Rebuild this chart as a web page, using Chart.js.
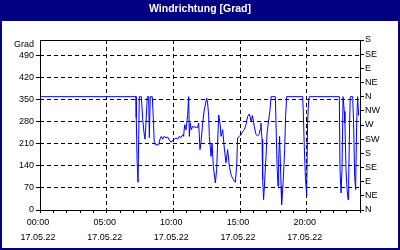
<!DOCTYPE html>
<html><head><meta charset="utf-8">
<script src="https://cdn.jsdelivr.net/npm/chart.js@4/dist/chart.umd.min.js"></script>
<style>html,body{margin:0;padding:0;background:#000080;}#wrap{width:400px;height:250px;}</style>
</head><body><div id="wrap"><canvas id="c" width="400" height="250"></canvas></div>
<script>
const titleText = 'Windrichtung [Grad]';
const unitLabel = 'Grad';
const dateLabel = '17.05.22';
const labelHours = [0, 5, 10, 15, 20];
const leftTickValues = [0, 70, 140, 210, 280, 350, 420, 490];
const compassLabels = ['N','NE','E','SE','S','SW','W','NW','N','NE','E','SE','S'];

// time of day in hours
const times = [0, 7.20, 7.22, 7.28, 7.35, 7.45, 7.60, 7.70, 7.80, 7.88, 7.95, 8.05, 8.15, 8.20, 8.27, 8.42,
  8.50, 8.57, 8.65, 8.90, 9.00, 9.10, 9.20, 9.32, 9.45, 9.57, 9.70, 9.83, 9.95, 10.07, 10.20, 10.32,
  10.45, 10.58, 10.70, 10.77, 10.85, 10.95, 11.07, 11.15, 11.20, 11.27, 11.35, 11.45, 11.70, 11.82, 11.90, 12.00,
  12.08, 12.20, 12.32, 12.50, 12.57, 12.65, 12.70, 12.83, 12.90, 13.00, 13.15, 13.25, 13.40, 13.50, 13.58, 13.70,
  13.82, 13.95, 14.07, 14.20, 14.33, 14.45, 14.65, 14.75, 14.82, 14.95, 15.08, 15.20, 15.32, 15.45, 15.57, 15.70,
  15.85, 15.92, 16.00, 16.07, 16.20, 16.32, 16.45, 16.50, 16.57, 16.65, 16.70, 16.77, 16.85, 16.95, 17.03, 17.12,
  17.25, 17.33, 17.65, 17.70, 17.78, 17.85, 17.90, 17.97, 18.08, 18.12, 18.20, 18.27, 18.35, 18.42, 18.50, 19.70,
  19.75, 19.82, 19.90, 20.00, 20.07, 20.15, 20.20, 22.45, 22.50, 22.58, 22.65, 22.73, 22.77, 22.82, 22.87, 22.95,
  23.03, 23.10, 23.15, 23.22, 23.27, 23.45, 23.52, 23.60, 23.67, 23.75, 23.82, 23.90];
// wind direction in degrees
const directions = [360, 360, 292, 160, 88, 360, 360, 290, 245, 225, 280, 360, 360, 230, 360, 360,
  290, 213, 207, 207, 225, 234, 225, 234, 229, 232, 222, 215, 222, 225, 229, 225,
  234, 230, 239, 234, 271, 255, 300, 360, 234, 276, 255, 265, 263, 262, 276, 192,
  218, 276, 318, 355, 340, 300, 234, 170, 213, 139, 86, 128, 302, 276, 234, 255,
  197, 150, 192, 139, 112, 100, 88, 139, 229, 234, 239, 250, 255, 271, 297, 305,
  280, 300, 285, 265, 240, 235, 242, 255, 276, 224, 97, 33, 92, 170, 244, 276,
  318, 360, 360, 276, 139, 75, 160, 234, 75, 17, 65, 118, 192, 297, 360, 360,
  308, 202, 107, 44, 276, 350, 360, 360, 128, 54, 128, 360, 360, 313, 276, 128,
  65, 33, 86, 276, 360, 360, 276, 107, 65, 276, 360, 300];

const FONT = 'Liberation Sans';
const frame = {
  id: 'frame',
  beforeDraw(chart) {
    const ctx = chart.ctx;
    ctx.save();
    ctx.fillStyle = '#000080';
    ctx.fillRect(0, 0, 400, 250);
    ctx.fillStyle = '#ffffff';
    ctx.fillRect(2, 21, 396, 227);
    ctx.restore();
  },
  afterDraw(chart) {
    const a = chart.chartArea, ctx = chart.ctx;
    ctx.save();
    ctx.strokeStyle = '#000';
    ctx.lineWidth = 1;
    ctx.strokeRect(Math.round(a.left) + 0.5, Math.round(a.top) + 0.5,
      Math.round(a.right) - Math.round(a.left), Math.round(a.bottom) - Math.round(a.top));
    ctx.restore();
  }
};

new Chart(document.getElementById('c'), {
  type: 'line',
  data: {
    datasets: [{
      data: times.map((t, i) => ({x: t, y: directions[i]})),
      borderColor: '#0000ff',
      borderWidth: 1,
      pointRadius: 0,
      tension: 0,
      fill: false,
      yAxisID: 'y'
    }]
  },
  options: {
    responsive: false,
    animation: false,
    layout: {padding: 0},
    plugins: {
      legend: {display: false},
      tooltip: {enabled: false},
      title: {
        display: true, text: titleText, color: '#ffffff',
        font: {family: FONT, size: 10.5, weight: 'bold', lineHeight: 1.2},
        padding: {top: 2.5, bottom: 24.9}
      }
    },
    scales: {
      x: {
        type: 'linear', min: 0, max: 24,
        afterFit(s) { s.height = 40; },
        afterBuildTicks(s) { const t = []; for (let h = 0; h <= 24; h++) t.push({value: h}); s.ticks = t; },
        ticks: {
          autoSkip: false, maxRotation: 0, color: '#000', padding: 2, labelOffset: -2,
          font: {family: FONT, size: 9, lineHeight: 1.667},
          callback: (v) => labelHours.includes(v) ? [String(v).padStart(2, '0') + ':00', dateLabel] : ''
        },
        grid: {
          color: (c) => (c.tick && labelHours.includes(c.tick.value) && c.tick.value > 0) ? '#000' : 'rgba(0,0,0,0)',
          tickColor: '#000', tickLength: 3, lineWidth: 1
        },
        border: {display: false, dash: [4, 3]}
      },
      y: {
        position: 'left', min: 0, max: 540,
        afterFit(s) { s.width = 40; },
        afterBuildTicks(s) { s.ticks = leftTickValues.concat([525]).map(v => ({value: v})); },
        ticks: {
          color: '#000', padding: 2,
          font: {family: FONT, size: 9},
          callback: (v) => v === 525 ? unitLabel : String(v)
        },
        grid: {
          color: (c) => (c.tick && c.tick.value > 0 && c.tick.value < 525) ? '#000' : 'rgba(0,0,0,0)',
          tickColor: (c) => (c.tick && c.tick.value === 525) ? 'rgba(0,0,0,0)' : '#000',
          tickLength: 4, lineWidth: 1
        },
        border: {display: false, dash: [4, 3]}
      },
      y2: {
        position: 'right', min: 0, max: 540,
        afterFit(s) { s.width = 40; },
        afterBuildTicks(s) { s.ticks = compassLabels.map((_, i) => ({value: i * 45})); },
        ticks: {
          color: '#000', padding: 1,
          font: {family: FONT, size: 9},
          callback: (v) => compassLabels[Math.round(v / 45)]
        },
        grid: {drawOnChartArea: false, tickColor: '#000', tickLength: 4},
        border: {display: false}
      }
    }
  },
  plugins: [frame]
});
</script>
</body></html>
